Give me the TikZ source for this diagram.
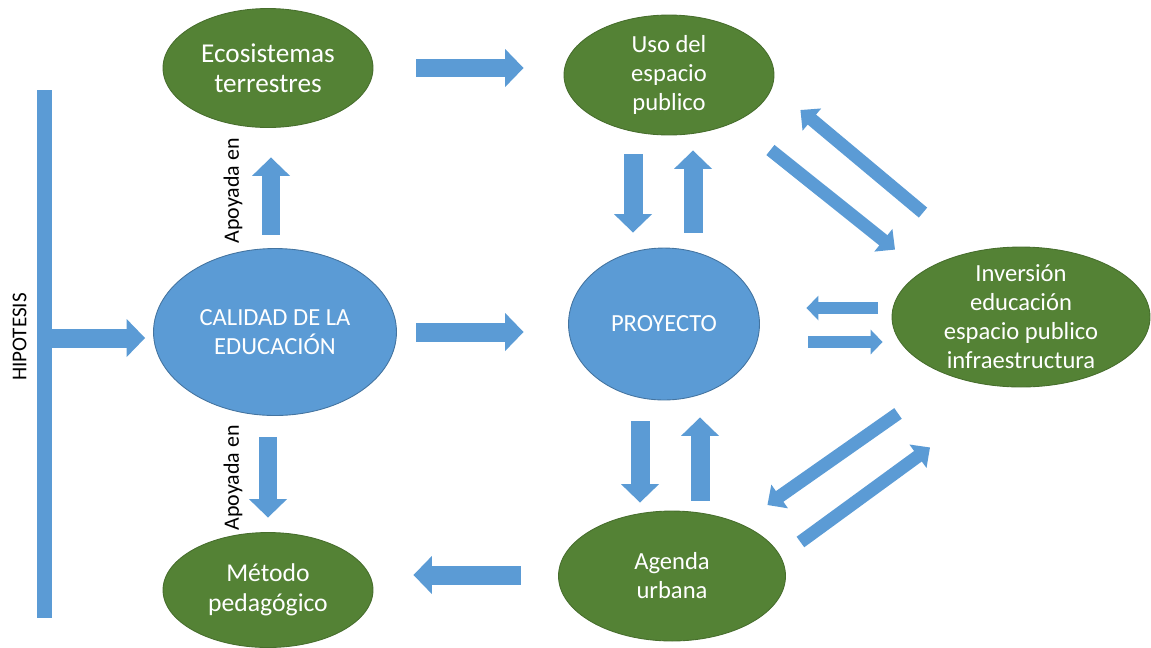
\documentclass[tikz,border=0pt]{standalone}
\usepackage{fontspec}
\setmainfont{Carlito}
\usetikzlibrary{arrows.meta, shapes.geometric, calc}
\definecolor{ofblue}{HTML}{5B9BD5}
\definecolor{ofgreen}{HTML}{548235}
\begin{document}
\begin{tikzpicture}[x=0.02cm, y=-0.02cm]
  \tikzset{blob/.style = {shape=ellipse, draw=ofblue!75!black, line width=0.5pt, fill=ofblue, text=white, inner sep=0pt, align=center, font=\fontsize{14}{16.5}\selectfont}}
  \tikzset{greenblob/.style = {blob, draw=ofgreen!85!black, fill=ofgreen}}
  \tikzset{bigarr/.style = {draw=ofblue, line width=10.8pt, -{Triangle[width=21pt, length=10.5pt, fill=ofblue]}}}
  \tikzset{midarr/.style = {draw=ofblue, line width=7.4pt, -{Triangle[width=16pt, length=8.5pt, fill=ofblue]}}}
  \tikzset{smallarr/.style = {draw=ofblue, line width=6.8pt, -{Triangle[width=13.7pt, length=6.8pt, fill=ofblue]}}}
  \tikzset{sidelabel/.style = {rotate=90, inner sep=0pt, font=\fontsize{12.5}{15}\selectfont}}
  \useasboundingbox (0,0) rectangle (1151,647);
  \node[fill=ofblue, minimum width=0.3cm, minimum height=10.56cm, inner sep=0pt] (hip) at (44.5,354) {};
  \node[sidelabel, font=\fontsize{12}{14}\selectfont] (hiplab) at (19.5,337) {HIPOTESIS};
  \node[greenblob, minimum width=4.2cm, minimum height=2.38cm, font=\fontsize{15.5}{16.8}\selectfont] (eco) at (268,68) {Ecosistemas\\terrestres};
  \node[greenblob, minimum width=4.2cm, minimum height=2.4cm, inner ysep=-3pt] (uso) at (669,75) {Uso del\\espacio\\publico};
  \node[blob, minimum width=4.86cm, minimum height=3.34cm] (cal) at (275,332) {CALIDAD DE LA\\EDUCACIÓN};
  \node[blob, minimum width=3.82cm, minimum height=3.04cm] (pro) at (664,324) {PROYECTO};
  \node[greenblob, minimum width=5.16cm, minimum height=2.8cm, inner ysep=-8pt] (inv) at (1021,317) {Inversión\\educación\\espacio publico\\infraestructura};
  \node[greenblob, minimum width=4.2cm, minimum height=2.3cm, font=\fontsize{14.6}{16.8}\selectfont] (met) at (268,590) {Método\\pedagógico};
  \node[greenblob, minimum width=4.54cm, minimum height=2.6cm] (age) at (672,576) {Agenda\\urbana};
  \node[sidelabel] (apo1) at (233,191) {Apoyada en};
  \node[sidelabel] (apo2) at (233,478) {Apoyada en};
  \draw[bigarr] ($(hip.east |- cal.west)+(0,6)$) -- ($(cal.west)+(-8,6)$);
  \draw[bigarr] ($(eco.east)+(43,0)$) -- ($(uso.west)+(-40,-7)$);
  \draw[bigarr] ($(cal.north)+(-4,-13.5)$) -- ($(eco.south)+(3,29.5)$);
  \draw[bigarr] ($(cal.south)+(-7,21.5)$) -- ($(met.north)+(0,-14.5)$);
  \draw[bigarr] ($(cal.east)+(19.5,0)$) -- ($(pro.west)+(-44.5,8)$);
  \draw[bigarr] ($(uso.south)+(-36,19)$) -- ($(pro.north)+(-31,-15)$);
  \draw[bigarr] ($(pro.north)+(29,-15)$) -- ($(uso.south)+(24,15)$);
  \draw[bigarr] ($(pro.south)+(-24,21)$) -- ($(age.north)+(-32,-8)$);
  \draw[bigarr] ($(age.north)+(28,-10)$) -- ($(pro.south)+(36,17)$);
  \draw[bigarr] ($(age.west)+(-37.5,-1)$) -- ($(met.east)+(40,-15)$);
  \draw[smallarr] ($(inv.west)+(-14,-9)$) -- ($(pro.east)+(46.5,-16)$);
  \draw[smallarr] ($(pro.east)+(48.5,18)$) -- ($(inv.west)+(-9,25)$);
  \draw[midarr] ($(inv.north)+(-98,-34)$) -- ($(uso.east)+(26,35)$);
  \draw[midarr] ($(uso.east)+(-4,75)$) -- ($(inv.north)+(-126,3)$);
  \draw[midarr] ($(inv.south)+(-123,26)$) -- ($(age.east)+(-18.5,-71)$);
  \draw[midarr] ($(age.east)+(14.5,-34)$) -- ($(inv.south)+(-91,60)$);
\end{tikzpicture}
\end{document}
